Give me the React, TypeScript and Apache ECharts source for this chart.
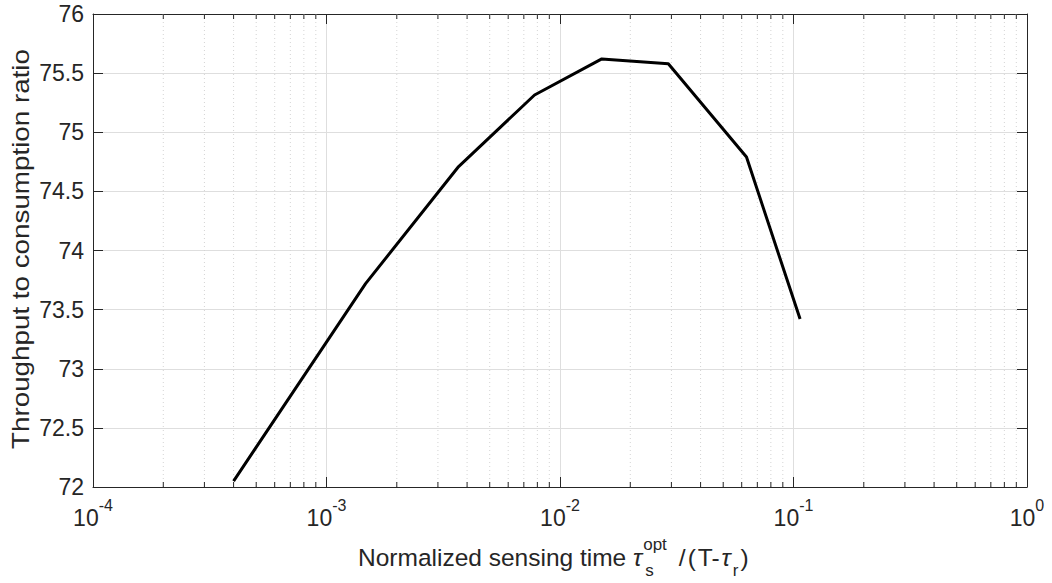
import React, { useEffect, useRef } from "react";
import * as echarts from "echarts";

// ---- data ----
const xValues = [4.0e-4, 1.47e-3, 3.68e-3, 7.78e-3, 1.51e-2, 2.91e-2, 6.29e-2, 0.1067];
const yValues = [72.05, 73.72, 74.71, 75.315, 75.62, 75.58, 74.79, 73.42];
const xDecades = [1e-4, 1e-3, 1e-2, 1e-1];
const minorMultipliers = [2, 3, 4, 5, 6, 7, 8, 9];
const yTicks = { min: 72, max: 76, interval: 0.5 };
const yAxisTitle = "Throughput to consumption ratio";

const minorValues: number[] = [];
xDecades.forEach((d) => minorMultipliers.forEach((m) => minorValues.push(d * m)));

const AXIS = "#262626";
const FONT = "Liberation Sans, Arial, Helvetica, sans-serif";
const TICK_FS = 23;
const NAME_FS = 24.5;

function measure(text: string, size: number, italic = false) {
  const c = document.createElement("canvas");
  const ctx = c.getContext("2d")!;
  ctx.font = `${italic ? "italic " : ""}${size}px ${FONT}`;
  return ctx.measureText(text).width;
}

function buildXLabel() {
  const F = NAME_FS;
  const S = 17;
  const yMid = 557;
  const ySup = 544;
  const ySub = 570;
  const els: any[] = [];
  const put = (t: string, x: number, size: number, y: number, italic = false) => {
    els.push({
      type: "text",
      x,
      y,
      style: {
        text: t,
        fontSize: size,
        fontFamily: FONT,
        fontStyle: italic ? "italic" : "normal",
        fill: AXIS,
        align: "left",
        verticalAlign: "middle",
      },
    });
    return measure(t, size, italic);
  };
  let x = 358;
  x += put("Normalized sensing time ", x, F, yMid);
  x += put("τ", x, F, yMid, true) + 1;
  const w1 = put("opt", x, S, ySup);
  const w2 = put("s", x + 2, S, ySub);
  x += Math.max(w1, w2 + 2) + 12;
  x += put("/", x, F, yMid) + 2;
  x += put("(", x, F, yMid) + 2;
  x += put("T-", x, F, yMid) + 2;
  x += put("τ", x, F, yMid, true) + 2;
  x += put("r", x, S, ySub) + 2;
  put(")", x, F, yMid);
  return els;
}

function buildYLabel() {
  const fs = 23;
  const len = measure(yAxisTitle, fs);
  return {
    type: "text",
    x: 21,
    y: 249,
    rotation: Math.PI / 2,
    scaleX: 400 / len,
    scaleY: 1,
    style: {
      text: yAxisTitle,
      fontSize: fs,
      fontFamily: FONT,
      fill: AXIS,
      align: "center",
      verticalAlign: "middle",
    },
  };
}

export default function App() {
  const ref = useRef<HTMLDivElement>(null);
  useEffect(() => {
    if (!ref.current) return;
    const chart = echarts.init(ref.current, undefined, { renderer: "svg" });
    const lineData = xValues.map((x, i) => [x, yValues[i]]);
    const xCommon = {
      type: "log" as const,
      logBase: 10,
      min: 1e-4,
      max: 1,
      axisLine: { show: true, lineStyle: { color: AXIS, width: 1 } },
      axisTick: { show: true, inside: true, length: 10, lineStyle: { color: AXIS, width: 1 } },
    };
    const yCommon = {
      type: "value" as const,
      min: yTicks.min,
      max: yTicks.max,
      interval: yTicks.interval,
      axisLine: { show: true, lineStyle: { color: AXIS, width: 1 } },
      axisTick: { show: true, inside: true, length: 10, lineStyle: { color: AXIS, width: 1 } },
    };
    chart.setOption({
      animation: false,
      backgroundColor: "#ffffff",
      grid: { left: 93, right: 25, top: 14, bottom: 96, containLabel: false },
      xAxis: [
        {
          ...xCommon,
          position: "bottom",
          axisLabel: {
            show: true,
            margin: 10,
            color: AXIS,
            formatter: (v: number) => {
              const e = Math.round(Math.log10(v));
              return `{b|10}{s|${e}}`;
            },
            rich: {
              b: { fontSize: TICK_FS, fontFamily: FONT, color: AXIS, lineHeight: 32, verticalAlign: "bottom" },
              s: { fontSize: 16, fontFamily: FONT, color: AXIS, lineHeight: 14, verticalAlign: "top" },
            },
          },
          splitLine: { show: true, lineStyle: { color: "#dedede", width: 1 } },
        },
        {
          ...xCommon,
          position: "top",
          axisLabel: { show: false },
          splitLine: { show: false },
        },
      ],
      yAxis: [
        {
          ...yCommon,
          position: "left",
          axisLabel: {
            show: true,
            margin: 9,
            color: AXIS,
            fontSize: TICK_FS,
            fontFamily: FONT,
            formatter: (v: number) => String(Math.round(v * 10) / 10),
          },
          splitLine: { show: true, lineStyle: { color: "#dedede", width: 1 } },
        },
        {
          ...yCommon,
          position: "right",
          axisLabel: { show: false },
          splitLine: { show: false },
        },
      ],
      series: [
        {
          type: "custom",
          xAxisIndex: 0,
          yAxisIndex: 0,
          z: 1,
          silent: true,
          clip: false,
          data: minorValues.map((v) => [v, yTicks.min]),
          encode: { x: 0, y: 1 },
          renderItem: (params: any, api: any) => {
            const v = api.value(0);
            const b = api.coord([v, yTicks.min]);
            const t = api.coord([v, yTicks.max]);
            return {
              type: "group",
              children: [
                {
                  type: "line",
                  shape: { x1: b[0], y1: b[1], x2: t[0], y2: t[1] },
                  style: { stroke: "#d4d4d4", lineWidth: 1, lineDash: [1, 3] },
                },
                {
                  type: "line",
                  shape: { x1: b[0], y1: b[1], x2: b[0], y2: b[1] - 5 },
                  style: { stroke: AXIS, lineWidth: 1 },
                },
                {
                  type: "line",
                  shape: { x1: t[0], y1: t[1], x2: t[0], y2: t[1] + 5 },
                  style: { stroke: AXIS, lineWidth: 1 },
                },
              ],
            };
          },
        },
        {
          type: "line",
          xAxisIndex: 0,
          yAxisIndex: 0,
          z: 5,
          data: lineData,
          showSymbol: false,
          symbol: "none",
          lineStyle: { color: "#000000", width: 3 },
        },
      ],
      graphic: [...buildXLabel(), buildYLabel()],
    });
    return () => chart.dispose();
  }, []);
  return (
    <div
      ref={ref}
      style={{ position: "absolute", left: 0, top: 0, width: 1052, height: 583 }}
    />
  );
}
